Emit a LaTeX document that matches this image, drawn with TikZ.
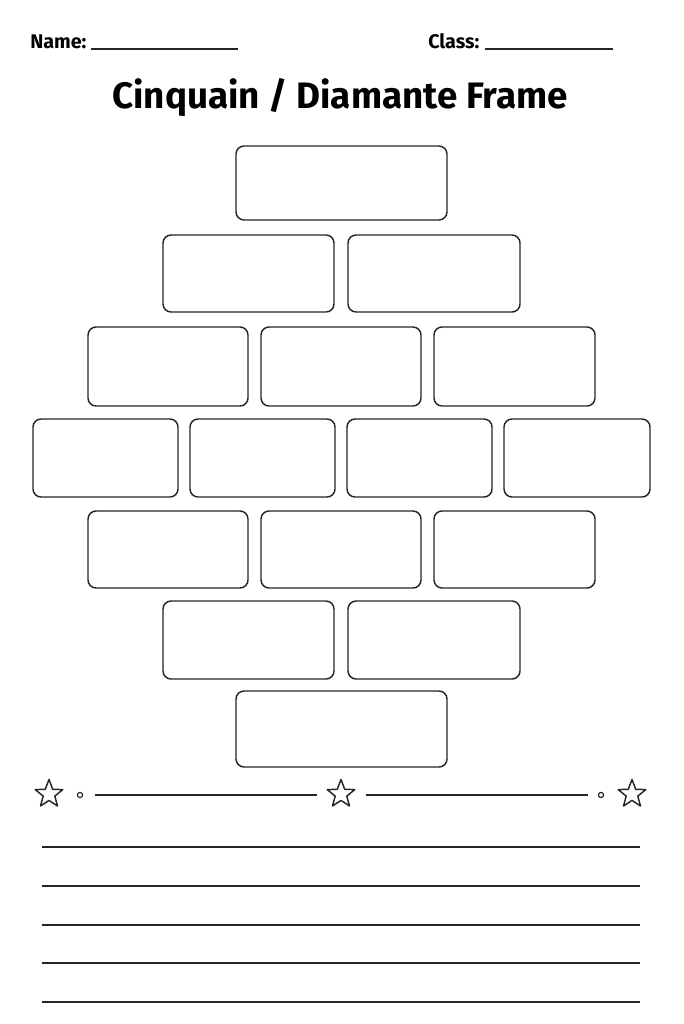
\documentclass[tikz,border=0pt]{standalone}
\usepackage{fontspec}
\setmainfont{Fira Sans}
\begin{document}
\begin{tikzpicture}[x=0.75pt,y=-0.75pt,
  cell/.style={draw=black!85,line width=1.1pt,rounded corners=6pt,fill=white},
  rule/.style={draw=black!85,line width=1.3pt},
  lbl/.style={font=\fontsize{14.8}{17}\selectfont\bfseries,anchor=base west,inner sep=0pt},
  dot/.style={draw=black!85,line width=0.9pt,fill=white},
  starshape/.style={draw=black!85,line width=1.1pt,line join=round,fill=white}]
\useasboundingbox (0,0) rectangle (683,1024);
% header
\node[lbl] (name) at (30,49) {Name:};
\draw[rule] (91,49) -- (238,49);
\node[lbl] (class) at (428,49) {Class:};
\draw[rule] (485,49) -- (613,49);
\node[font=\fontsize{27.6}{32}\selectfont\bfseries,inner sep=0pt] (title) at (340,98) {Cinquain / Diamante Frame};
% boxes
\newcommand{\cellbox}[5]{\draw[cell] (#2,#4) rectangle (#3,#5) node[midway,inner sep=0pt] (#1) {};}
\cellbox{a1}{236}{447}{146}{220}
\cellbox{b1}{163}{334}{235}{312}
\cellbox{b2}{348}{520}{235}{312}
\cellbox{c1}{88}{248}{327}{406}
\cellbox{c2}{261}{421}{327}{406}
\cellbox{c3}{434}{595}{327}{406}
\cellbox{d1}{33}{178}{419}{497}
\cellbox{d2}{190}{335}{419}{497}
\cellbox{d3}{347}{492}{419}{497}
\cellbox{d4}{504}{650}{419}{497}
\cellbox{e1}{88}{248}{511}{588}
\cellbox{e2}{261}{421}{511}{588}
\cellbox{e3}{434}{595}{511}{588}
\cellbox{f1}{163}{334}{601}{679}
\cellbox{f2}{348}{520}{601}{679}
\cellbox{g1}{236}{447}{691}{767}
% divider stars
\foreach \cx in {49,341,632} {
  \draw[starshape]
    (\cx+0,794-14.5) -- (\cx+3.7,794-4.7) -- (\cx+13.8,794-4.4) -- (\cx+5.8,794+2.1)
    -- (\cx+8.5,794+12) -- (\cx+0,794+6.4) -- (\cx-8.5,794+12) -- (\cx-5.8,794+2.1)
    -- (\cx-13.8,794-4.4) -- (\cx-3.7,794-4.7) -- cycle;
}
\draw[dot] (80,795) circle (2.6);
\draw[dot] (601,795) circle (2.6);
\draw[rule] (95,795) -- (317,795);
\draw[rule] (366,795) -- (588,795);
% writing lines
\foreach \yy in {847,886,925,963,1002} {
  \draw[rule] (42,\yy) -- (640,\yy);
}
\end{tikzpicture}
\end{document}
